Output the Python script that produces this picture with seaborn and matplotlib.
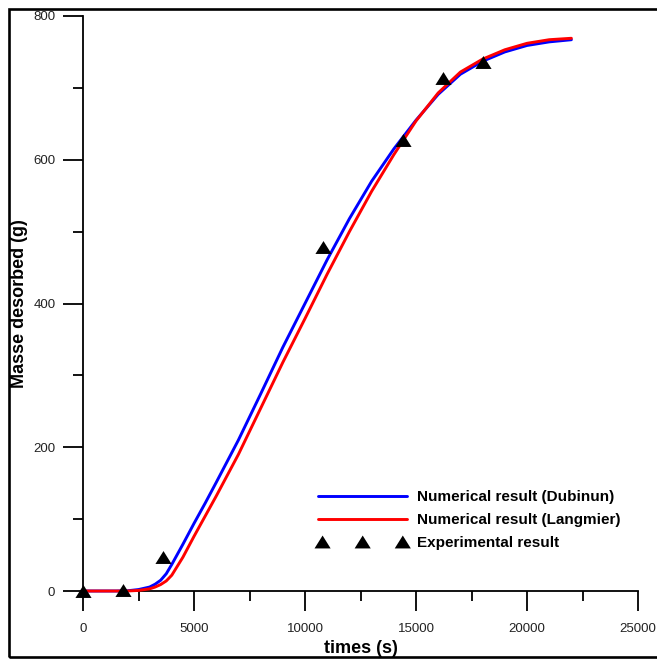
import numpy as np
import pandas as pd
import matplotlib
matplotlib.use('Agg')
import matplotlib.pyplot as plt
import seaborn as sns
from matplotlib.patches import Rectangle
from matplotlib.ticker import MultipleLocator

# ---- data ----
time_s = [0, 1000, 1500, 2000, 2500, 3000, 3250, 3500, 3750, 4000, 4500, 5000, 5500,
          6000, 7000, 8000, 9000, 10000, 11000, 12000, 13000, 14000, 15000, 16000,
          17000, 18000, 19000, 20000, 21000, 22000]
mass_dubinin = [0, 0, 0, 0.3, 2, 5.5, 9.5, 15, 24, 37, 65, 94, 122,
                151, 210, 274, 339, 400, 461, 518, 570, 615, 655, 691,
                719, 737, 750, 759, 764, 767]
mass_langmuir = [0, 0, 0, 0, 0.8, 3, 5.5, 9, 14, 22, 47, 76, 104,
                 132, 190, 254, 318, 379, 441, 500, 556, 607, 654, 693,
                 722, 740, 753, 762, 767, 769]
exp_time = [0, 1800, 3600, 10800, 14400, 16200, 18000]
exp_mass = [0, 2, 48, 479, 628, 714, 736]

labels = ["Numerical result (Dubinun)", "Numerical result (Langmier)", "Experimental result"]
xticks = [0, 5000, 10000, 15000, 20000, 25000]
yticks = [0, 200, 400, 600, 800]

df = pd.DataFrame({"t": time_s, "dub": mass_dubinin, "lang": mass_langmuir})
dfe = pd.DataFrame({"t": exp_time, "m": exp_mass})

sns.set_theme(style="ticks")
plt.rcParams['font.family'] = ['Liberation Sans', 'DejaVu Sans']

W, H = 657, 659
fig = plt.figure(figsize=(W / 100, H / 100), dpi=100)
ax = fig.add_axes([83 / W, 1 - 591 / H, (638 - 83) / W, (591 - 16) / H])

sns.lineplot(data=df, x="t", y="dub", ax=ax, color="#0000FF", linewidth=2.1,
             clip_on=False, zorder=3, label=labels[0])
sns.lineplot(data=df, x="t", y="lang", ax=ax, color="#FF0000", linewidth=2.1,
             clip_on=False, zorder=4, label=labels[1])
tri = [(-1, -0.8), (1, -0.8), (0, 0.8)]
sns.scatterplot(data=dfe, x="t", y="m", ax=ax, marker=tri, s=135, color="black",
                edgecolor="black", linewidth=0, clip_on=False, zorder=6, label=labels[2])

ax.set_xlim(0, 25000)
ax.set_ylim(0, 800)
ax.set_xticks(xticks)
ax.set_yticks(yticks)
ax.set_xticklabels([str(v) for v in xticks])
ax.set_yticklabels([str(v) for v in yticks])
ax.xaxis.set_minor_locator(MultipleLocator(2500))
ax.yaxis.set_minor_locator(MultipleLocator(100))

for s in ['top', 'right']:
    ax.spines[s].set_visible(False)
for s in ['left', 'bottom']:
    ax.spines[s].set_linewidth(1.3)
    ax.spines[s].set_color('black')

ax.tick_params(axis='both', which='major', direction='out', length=14.4, width=1.3,
               color='black', labelsize=9.5, labelcolor='#222222')
ax.tick_params(axis='both', which='minor', direction='out', length=7.2, width=1.3, color='black')
ax.tick_params(axis='y', which='major', pad=5.5)
ax.tick_params(axis='x', which='major', pad=8.5)

ax.set_xlabel("times (s)", fontsize=13, fontweight='bold', color='black')
ax.set_ylabel("Masse desorbed (g)", fontsize=13, fontweight='bold', color='black')
ax.xaxis.set_label_coords(0.5, (591 - 640) / 575)
ax.yaxis.set_label_coords((28 - 83) / 555, 0.5)

handles, labs = ax.get_legend_handles_labels()
leg = ax.legend(handles, labs, loc='upper left',
                bbox_to_anchor=(318 / W, 1 - 490 / H), bbox_transform=fig.transFigure,
                frameon=False, borderpad=0, borderaxespad=0,
                handlelength=5.85, handletextpad=0.6, labelspacing=0.6,
                scatterpoints=3, scatteryoffsets=[0.5],
                prop={'weight': 'bold', 'size': 11})
for t in leg.get_texts():
    t.set_color('black')

fig.patches.append(Rectangle((8.7 / W, (H - 657) / H), (680 - 8.7) / W, (657 - 8.7) / H,
                             transform=fig.transFigure, fill=False, edgecolor='black',
                             linewidth=1.9, zorder=10))

fig.savefig("out.png", dpi=100)
